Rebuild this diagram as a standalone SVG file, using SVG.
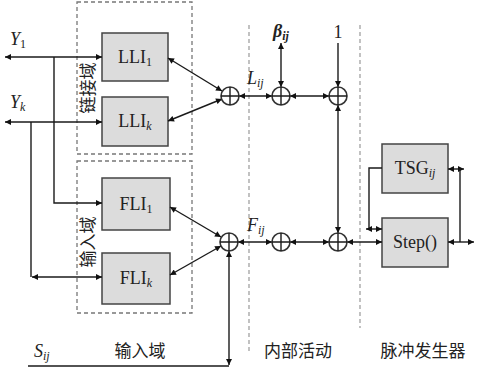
<svg xmlns="http://www.w3.org/2000/svg" width="480" height="370" viewBox="0 0 480 370">
<defs>
<marker id="ah" viewBox="0 0 10 10" refX="10" refY="5" markerWidth="8" markerHeight="6" markerUnits="userSpaceOnUse" orient="auto-start-reverse">
<path d="M0,0 L10,5 L0,10 Z" fill="#111"/>
</marker>
<style>
.box{fill:#dcdcdc;stroke:#444;stroke-width:1.5}
.dash{fill:none;stroke:#777;stroke-width:1.3;stroke-dasharray:4,3}
.vd{fill:none;stroke:#999;stroke-width:1.2;stroke-dasharray:4,3}
.w{fill:none;stroke:#1a1a1a;stroke-width:1.4}
.a2{marker-start:url(#ah);marker-end:url(#ah)}
.a1{marker-end:url(#ah)}
.sum{fill:#fff;stroke:#333;stroke-width:1.6}
.lt{font-family:"Liberation Serif",serif;font-size:18px;fill:#222}
.it{font-style:italic}
.sub{font-size:12px}
.cn{font-family:"Noto Sans CJK SC","Noto Sans CJK TC",sans-serif;font-size:17px;fill:#222}
</style>
</defs>
<rect width="480" height="370" fill="#fff"/>

<g id="link-domain">
<rect class="dash" x="77" y="2" width="115" height="152"/>
<text class="cn" transform="translate(94,88) rotate(-90)" text-anchor="middle">链接域</text>
</g>
<g id="input-domain">
<rect class="dash" x="77" y="161" width="115" height="152"/>
<text class="cn" transform="translate(94,242) rotate(-90)" text-anchor="middle">输入域</text>
</g>
<g id="separators">
<line class="vd" x1="249" y1="25" x2="249" y2="352"/>
<line class="vd" x1="360" y1="25" x2="360" y2="328"/>
</g>

<g id="LLI1"><rect class="box" x="102" y="33" width="66" height="48"/>
<text class="lt" x="135" y="63" text-anchor="middle">LLI<tspan class="sub" dy="3">1</tspan></text></g>
<g id="LLIk"><rect class="box" x="102" y="97" width="66" height="49"/>
<text class="lt" x="135" y="127" text-anchor="middle">LLI<tspan class="sub it" dy="3">k</tspan></text></g>
<g id="FLI1"><rect class="box" x="102" y="178" width="68" height="52"/>
<text class="lt" x="136" y="210" text-anchor="middle">FLI<tspan class="sub" dy="3">1</tspan></text></g>
<g id="FLIk"><rect class="box" x="102" y="253" width="68" height="51"/>
<text class="lt" x="136" y="284" text-anchor="middle">FLI<tspan class="sub it" dy="3">k</tspan></text></g>
<g id="TSG"><rect class="box" x="382" y="144" width="66" height="49"/>
<text class="lt" x="415" y="174" text-anchor="middle">TSG<tspan class="sub it" dy="3">ij</tspan></text></g>
<g id="Step"><rect class="box" x="382" y="218" width="66" height="49"/>
<text class="lt" x="415" y="248" text-anchor="middle">Step()</text></g>

<g id="connectors">
<line class="w a2" x1="5" y1="57" x2="102" y2="57"/>
<path class="w a1" d="M54,57 V203 H102"/>
<line class="w a2" x1="5" y1="122" x2="102" y2="122"/>
<line class="w" x1="31" y1="122" x2="31" y2="277"/>
<line class="w a2" x1="32" y1="277" x2="102" y2="277"/>
<line class="w a2" x1="168" y1="58" x2="222" y2="91"/>
<line class="w a2" x1="168" y1="121" x2="222" y2="99"/>
<line class="w a2" x1="170" y1="207" x2="221" y2="237"/>
<line class="w a2" x1="170" y1="275" x2="221" y2="246"/>
<line class="w a2" x1="239" y1="96" x2="272" y2="96"/>
<line class="w a2" x1="290" y1="96" x2="329" y2="96"/>
<line class="w a2" x1="281" y1="43" x2="281" y2="87"/>
<line class="w a1" x1="338" y1="43" x2="338" y2="87"/>
<line class="w a2" x1="338" y1="105" x2="338" y2="233"/>
<line class="w a2" x1="238" y1="242" x2="272" y2="242"/>
<line class="w a2" x1="290" y1="242" x2="329" y2="242"/>
<line class="w a2" x1="347" y1="242" x2="382" y2="242"/>
<line class="w a2" x1="229" y1="251" x2="229" y2="365"/>
<line class="w" x1="28" y1="366" x2="229" y2="366"/>
<path class="w" d="M382,168 H369 V229"/>
<line class="w a2" x1="366" y1="229" x2="382" y2="229"/>
<line class="w a2" x1="448" y1="169" x2="464" y2="169"/>
<line class="w" x1="460" y1="169" x2="460" y2="242"/>
<line class="w a2" x1="448" y1="242" x2="474" y2="242"/>
</g>

<g id="sum-L1"><circle class="sum" cx="230" cy="96" r="9"/><path class="w" d="M221,96 H239 M230,87 V105"/></g>
<g id="sum-L2"><circle class="sum" cx="281" cy="96" r="9"/><path class="w" d="M272,96 H290 M281,87 V105"/></g>
<g id="sum-L3"><circle class="sum" cx="338" cy="96" r="9"/><path class="w" d="M329,96 H347 M338,87 V105"/></g>
<g id="sum-F1"><circle class="sum" cx="229" cy="242" r="9"/><path class="w" d="M220,242 H238 M229,233 V251"/></g>
<g id="sum-F2"><circle class="sum" cx="281" cy="242" r="9"/><path class="w" d="M272,242 H290 M281,233 V251"/></g>
<g id="sum-F3"><circle class="sum" cx="338" cy="242" r="9"/><path class="w" d="M329,242 H347 M338,233 V251"/></g>

<g id="labels">
<text class="lt" x="10" y="45"><tspan class="it">Y</tspan><tspan class="sub" dy="3">1</tspan></text>
<text class="lt" x="10" y="108"><tspan class="it">Y</tspan><tspan class="sub it" dy="3">k</tspan></text>
<text class="lt" x="247" y="84"><tspan class="it">L</tspan><tspan class="sub it" dy="3">ij</tspan></text>
<text class="lt" x="247" y="231"><tspan class="it">F</tspan><tspan class="sub it" dy="3">ij</tspan></text>
<text class="lt" x="273" y="37" font-weight="bold"><tspan class="it">β</tspan><tspan class="sub it" dy="3">ij</tspan></text>
<text class="lt" x="338" y="38" text-anchor="middle" font-size="15">1</text>
<text class="lt" x="34" y="357"><tspan class="it">S</tspan><tspan class="sub it" dy="3">ij</tspan></text>
<text class="cn" x="140" y="357" text-anchor="middle">输入域</text>
<text class="cn" x="298" y="357" text-anchor="middle">内部活动</text>
<text class="cn" x="423" y="357" text-anchor="middle">脉冲发生器</text>
</g>
</svg>
